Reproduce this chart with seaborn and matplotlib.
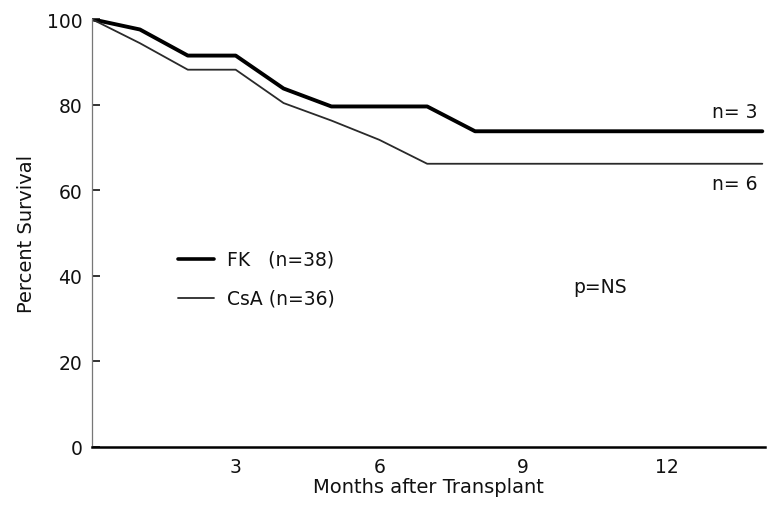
import matplotlib
matplotlib.use("Agg")
import matplotlib.pyplot as plt
import seaborn as sns
import pandas as pd

months_fk = [0, 1, 2, 3, 4, 5, 7, 8, 14]
survival_fk = [100, 97.6, 91.5, 91.5, 83.8, 79.6, 79.6, 73.8, 73.8]
months_csa = [0, 1, 2, 3, 4, 5, 6, 7, 14]
survival_csa = [100, 94.4, 88.2, 88.2, 80.4, 76.3, 71.8, 66.2, 66.2]
x_ticks = [3, 6, 9, 12]
y_ticks = [0, 20, 40, 60, 80, 100]

df = pd.concat([
    pd.DataFrame({"month": months_fk, "surv": survival_fk, "group": "FK"}),
    pd.DataFrame({"month": months_csa, "surv": survival_csa, "group": "CsA"}),
])

sns.set_theme(style="white")
plt.rcParams["font.family"] = ["DejaVu Sans"]

fig = plt.figure(figsize=(7.67, 5.06), dpi=100)
ax = fig.add_axes([0.12, 0.115, 0.877, 0.845])

sns.lineplot(data=df[df.group == "FK"], x="month", y="surv", ax=ax,
             color="black", linewidth=2.8, estimator=None, legend=False)
sns.lineplot(data=df[df.group == "CsA"], x="month", y="surv", ax=ax,
             color="#2a2a2a", linewidth=1.3, estimator=None, legend=False)

ax.set_xlim(0, 14.05)
ax.set_ylim(0, 100)
ax.set_xticks(x_ticks)
ax.set_yticks(y_ticks)
ax.tick_params(axis="x", length=0, labelsize=13.5, pad=7, colors="#111111")
ax.tick_params(axis="y", direction="in", length=6, width=1.2, labelsize=13.5,
               pad=7, colors="#111111", left=True)
for s in ["top", "right"]:
    ax.spines[s].set_visible(False)
ax.spines["left"].set_color("#777777")
ax.spines["left"].set_linewidth(0.9)
ax.spines["bottom"].set_color("black")
ax.spines["bottom"].set_linewidth(1.8)

ax.set_xlabel("Months after Transplant", fontsize=14, labelpad=1, color="#111111")
ax.set_ylabel("Percent Survival", fontsize=14, labelpad=8, color="#111111")

# legend
ax.plot([1.8, 2.55], [44.0, 44.0], color="black", linewidth=2.6, clip_on=False)
ax.plot([1.8, 2.55], [34.9, 34.9], color="#2a2a2a", linewidth=1.3, clip_on=False)
ax.text(2.82, 44.0, "FK   (n=38)", fontsize=13.5, va="center", ha="left", color="#111111")
ax.text(2.82, 34.9, "CsA (n=36)", fontsize=13.5, va="center", ha="left", color="#111111")
ax.text(10.05, 37.6, "p=NS", fontsize=13.5, va="center", ha="left", color="#111111")
ax.text(13.9, 78.5, "n= 3", fontsize=13.5, va="center", ha="right", color="#111111")
ax.text(13.9, 61.6, "n= 6", fontsize=13.5, va="center", ha="right", color="#111111")

fig.savefig("out.png", dpi=100)
